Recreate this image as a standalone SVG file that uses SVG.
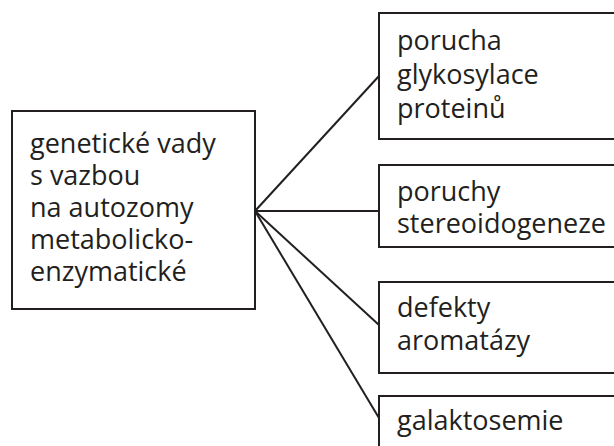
<svg xmlns="http://www.w3.org/2000/svg" width="614" height="446" viewBox="0 0 614 446">
<style>
.box{fill:#fff;stroke:#231f20;stroke-width:2}
.t{font-family:"Open Sans","Noto Sans","Liberation Sans",sans-serif;font-size:27px;fill:#231f20}
.c{stroke:#231f20;stroke-width:2;fill:none}
</style>
<rect width="614" height="446" fill="#fff"/>
<g id="connectors">
<line class="c" x1="255" y1="211" x2="379" y2="76"/>
<line class="c" x1="255" y1="211" x2="379" y2="211"/>
<line class="c" x1="255" y1="211" x2="379" y2="325"/>
<line class="c" x1="255" y1="211" x2="379" y2="418"/>
</g>
<g id="root">
<rect class="box" x="12" y="111" width="243" height="198"/>
<text class="t"><tspan x="30" y="153">genetické vady</tspan><tspan x="30" y="185">s vazbou</tspan><tspan x="30" y="217">na autozomy</tspan><tspan x="30" y="249">metabolicko-</tspan><tspan x="30" y="281">enzymatické</tspan></text>
</g>
<g id="n1">
<rect class="box" x="379" y="13" width="250" height="126"/>
<text class="t"><tspan x="397" y="50">porucha</tspan><tspan x="397" y="84">glykosylace</tspan><tspan x="397" y="118">proteinů</tspan></text>
</g>
<g id="n2">
<rect class="box" x="379" y="165" width="250" height="82"/>
<text class="t"><tspan x="397" y="201">poruchy</tspan><tspan x="397" y="233">stereoidogeneze</tspan></text>
</g>
<g id="n3">
<rect class="box" x="379" y="282" width="250" height="91"/>
<text class="t"><tspan x="397" y="317">defekty</tspan><tspan x="397" y="350">aromatázy</tspan></text>
</g>
<g id="n4">
<rect class="box" x="379" y="396" width="250" height="80"/>
<text class="t"><tspan x="397" y="430">galaktosemie</tspan></text>
</g>
</svg>
